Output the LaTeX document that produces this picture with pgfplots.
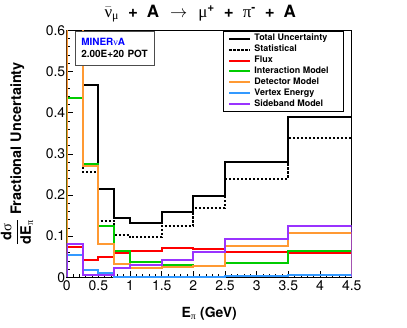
\documentclass[border=0pt]{standalone}
\usepackage{pgfplots}
\usepackage{pgfplotstable}
\pgfplotsset{compat=1.18}
\usepackage{fontspec}
\setmainfont{TeX Gyre Heros}
\newfontfamily\greekfont{Liberation Serif}
\newcommand{\g}[1]{{\greekfont\mdseries #1}}

\definecolor{sysred}{RGB}{255,0,0}
\definecolor{sysgreen}{RGB}{0,204,0}
\definecolor{sysorange}{RGB}{255,153,51}
\definecolor{sysblue}{RGB}{51,153,255}
\definecolor{syspurple}{RGB}{153,51,255}

% bin low edges (first and last rows close the histogram to zero)
\pgfplotstableread{
x     total  stat   flux   inter  det    vtx    side
0     0      0      0      0      0      0      0
0     0.800  0.620  0.074  0.436  0.700  0.054  0.081
0.25  0.467  0.257  0.042  0.275  0.271  0.018  0.005
0.5   0.214  0.137  0.050  0.125  0.080  0.011  0.005
0.75  0.143  0.103  0.060  0.065  0.032  0.001  0.022
1.0   0.131  0.097  0.065  0.038  0.022  0.001  0.030
1.5   0.159  0.125  0.070  0.030  0.026  0.001  0.042
2.0   0.198  0.168  0.068  0.027  0.028  0.001  0.061
2.5   0.281  0.240  0.062  0.034  0.077  0.003  0.093
3.5   0.389  0.338  0.058  0.065  0.108  0.005  0.125
4.5   0.389  0.338  0.058  0.065  0.108  0.005  0.125
4.5   0      0      0      0      0      0      0
}\errtable

\newcommand{\gap}{\hspace{9bp}}

\begin{document}
\begin{tikzpicture}
\useasboundingbox (-66.7bp,-50.7bp) rectangle ++(407bp,328bp);
\begin{axis}[
    at={(0,0)}, anchor=south west,
    scale only axis, width=285bp, height=247bp,
    xmin=0, xmax=4.5, ymin=0, ymax=0.6,
    xtick={0,0.5,...,4.5}, ytick={0,0.1,...,0.6},
    minor x tick num=4, minor y tick num=4,
    tick align=inside, xtick pos=left, ytick pos=left,
    major tick length=6bp, minor tick length=3bp,
    tick style={black, line width=0.6bp},
    axis line style={line width=0.8bp},
    ticklabel style={font=\fontsize{14}{14}\selectfont},
    yticklabel style={xshift=2bp},
    /pgf/number format/assume math mode=true,
    title={$\bar{\hbox{\g{ν}}}$\textsubscript{\g{μ}}\gap+\gap A\hspace{11bp}$\rightarrow$\hspace{11bp}\g{μ}\textsuperscript{+}\gap+\gap\g{π}\textsuperscript{-}\gap+\gap A},
    title style={font=\fontsize{17}{17}\selectfont\bfseries, at={(axis description cs:0.5,1)}, anchor=base, yshift=7bp, xshift=-9bp},
    xlabel={E\textsubscript{\g{π}} (GeV)},
    xlabel style={font=\fontsize{14}{14}\selectfont\bfseries, at={(axis description cs:0.5,0)}, anchor=base, yshift=-40bp},
    ylabel={$\displaystyle\frac{\hbox{d\g{σ}}}{\hbox{dE\textsubscript{\g{π}}}}$ Fractional Uncertainty},
    ylabel style={font=\fontsize{14.5}{14.5}\selectfont\bfseries, at={(axis description cs:-0.1744,0.5)}, anchor=center},
    every axis plot/.append style={const plot mark left, no marks, line width=2bp},
    legend image code/.code={\draw[#1] (0bp,0bp) -- (21bp,0bp);},
    legend cell align=left,
    legend style={at={(rel axis cs:0.549,0.997)}, anchor=north west, draw=black, line width=0.6bp,
        font=\fontsize{9}{9}\selectfont\bfseries, inner xsep=5bp, inner ysep=2bp,
        column sep=2bp, row sep=0bp,
        nodes={inner sep=1bp, text height=6.6bp, text depth=2.3bp}},
]
\addplot[black] table[x=x, y=total] {\errtable};
\addlegendentry{Total Uncertainty}
\addplot[black, dash pattern=on 2.2bp off 1.8bp] table[x=x, y=stat] {\errtable};
\addlegendentry{Statistical}
\addplot[sysred] table[x=x, y=flux] {\errtable};
\addlegendentry{Flux}
\addplot[sysgreen] table[x=x, y=inter] {\errtable};
\addlegendentry{Interaction Model\hspace*{9bp}}
\addplot[sysorange] table[x=x, y=det] {\errtable};
\addlegendentry{Detector Model}
\addplot[sysblue] table[x=x, y=vtx] {\errtable};
\addlegendentry{Vertex Energy}
\addplot[syspurple] table[x=x, y=side] {\errtable};
\addlegendentry{Sideband Model}

\node[draw=black!70, line width=0.6bp, fill=white, anchor=north west,
      text width=67bp, minimum height=34bp, inner xsep=6bp, align=left,
      font=\fontsize{10}{12.6}\selectfont\bfseries]
  at (rel axis cs:0.029,0.999) {\textcolor{blue}{MINER\g{ν}A}\\2.00E+20 POT};
\end{axis}
\end{tikzpicture}
\end{document}
